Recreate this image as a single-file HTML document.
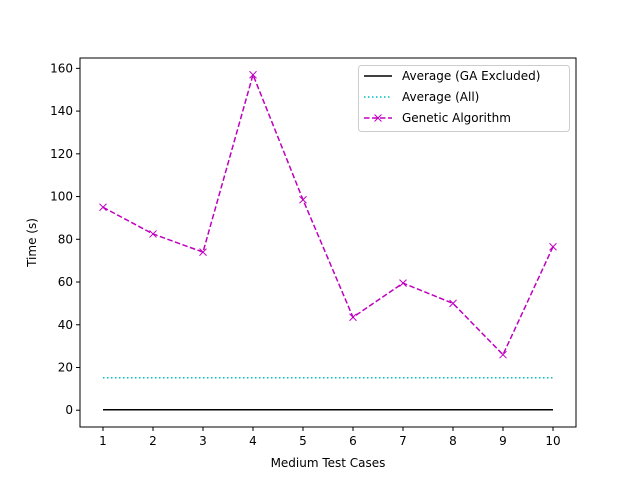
<!DOCTYPE html>
<html><head><meta charset="utf-8"><style>
body{margin:0;background:#fff}
svg text{font-family:"DejaVu Sans","Liberation Sans",sans-serif;font-size:12px;fill:#000}
</style></head><body>
<svg id="c" width="640" height="480"></svg>
<script>
const cats=[1,2,3,4,5,6,7,8,9,10];
const gaValues=[95,82.5,74,157,98.5,43.5,59.5,50,26,76.5];
const avgAll=15.2;
const avgExcl=0.2;
const yTicks=[0,20,40,60,80,100,120,140,160];
const L=80,R=576,T=58,B=427;
const x=v=>103+(v-1)*50;
const yMin=-7.85,yMax=164.85;
const y=v=>B-(v-yMin)/(yMax-yMin)*(B-T);
const s=document.getElementById('c');
const NS='http://www.w3.org/2000/svg';
function mk(t,a,p){const e=document.createElementNS(NS,t);for(const k in a)e.setAttribute(k,a[k]);(p||s).appendChild(e);return e;}
let e;
e=mk('rect',{x:L,y:T,width:R-L,height:B-T,fill:'none',stroke:'#000','stroke-width':1});


cats.forEach(c=>{
 mk('line',{x1:x(c),x2:x(c),y1:B,y2:B+4,stroke:'#000'});
 e=mk('text',{x:x(c),y:B+18,'text-anchor':'middle'});e.textContent=c;
 
 
});
yTicks.forEach(v=>{
 mk('line',{x1:L-4,x2:L,y1:y(v),y2:y(v),stroke:'#000'});
 e=mk('text',{x:L-7,y:y(v)+4,'text-anchor':'end'});e.textContent=v;
 
 
});
e=mk('text',{x:(L+R)/2,y:467,'text-anchor':'middle'});e.textContent='Medium Test Cases';


e=mk('text',{x:36,y:(T+B)/2,'text-anchor':'middle',transform:`rotate(-90 36 ${(T+B)/2})`});e.textContent='Time (s)';


e=mk('line',{x1:x(1),x2:x(10),y1:y(avgExcl),y2:y(avgExcl),stroke:'#000','stroke-width':1.5});


e=mk('line',{x1:x(1),x2:x(10),y1:y(avgAll),y2:y(avgAll),stroke:'#00bfbf','stroke-width':1.5,'stroke-dasharray':'1.5,2.5'});


e=mk('polyline',{points:cats.map((c,i)=>x(c)+','+y(gaValues[i])).join(' '),fill:'none',stroke:'#bf00bf','stroke-width':1.5,'stroke-dasharray':'5.5,2.5'});


cats.forEach((c,i)=>{
 const px=x(c),py=y(gaValues[i]);
 e=mk('path',{d:`M${px-3.5},${py-3.5}L${px+3.5},${py+3.5}M${px-3.5},${py+3.5}L${px+3.5},${py-3.5}`,stroke:'#bf00bf','stroke-width':1});
 
 
});
const lg=mk('g',{});


mk('rect',{x:358.5,y:65.5,width:211,height:66,rx:3,fill:'#fff',stroke:'#ccc'},lg);
const items=[['Average (GA Excluded)','#000',''],['Average (All)','#00bfbf','1.5,2.5'],['Genetic Algorithm','#bf00bf','5.5,2.5']];
items.forEach((it,i)=>{
 const yy=76+i*21;
 mk('line',{x1:364,x2:392,y1:yy,y2:yy,stroke:it[1],'stroke-width':1.5,'stroke-dasharray':it[2]},lg);
 if(i==2)mk('path',{d:`M374.5,${yy-3.5}L381.5,${yy+3.5}M374.5,${yy+3.5}L381.5,${yy-3.5}`,stroke:it[1]},lg);
 e=mk('text',{x:402,y:yy+4},lg);e.textContent=it[0];
 
 
});
</script>
</body></html>
